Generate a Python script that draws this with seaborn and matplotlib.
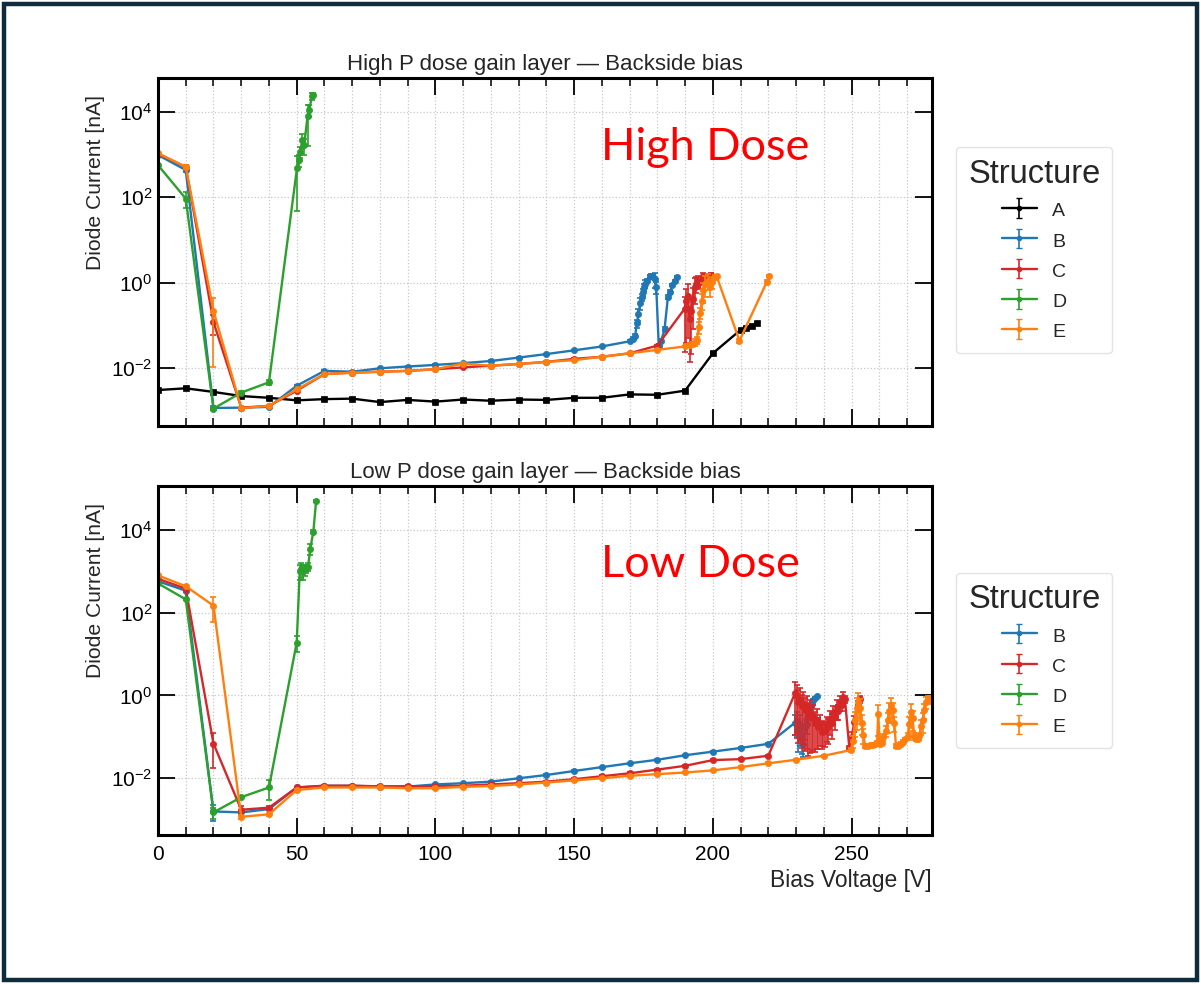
import numpy as np
import pandas as pd
import matplotlib
matplotlib.use("Agg")
import matplotlib.pyplot as plt
import matplotlib.ticker as mticker
from matplotlib.patches import Rectangle
import seaborn as sns

# ---------------- data (Bias Voltage [V], Diode Current [nA], relative error) ----------------
# High P dose
hA_V = [0, 10, 20, 30, 40, 50, 60, 70, 80, 90, 100, 110, 120, 130, 140, 150, 160, 170, 180, 190, 200, 210, 212, 214, 216]
hA_I = [3.1e-3, 3.4e-3, 2.8e-3, 2.24e-3, 2.04e-3, 1.78e-3, 1.9e-3, 1.95e-3, 1.62e-3, 1.82e-3, 1.66e-3, 1.86e-3, 1.74e-3,
        1.86e-3, 1.82e-3, 2.04e-3, 2.04e-3, 2.45e-3, 2.4e-3, 3.0e-3, 0.0224, 0.079, 0.089, 0.1, 0.112]
hA_E = [0.05] * 25

hB_V = [0, 10, 20, 30, 40, 50, 60, 70, 80, 90, 100, 110, 120, 130, 140, 150, 160, 170, 171.2, 172.0, 172.6, 173.2, 173.8,
        174.3, 174.8, 175.3, 175.7, 176.3, 177.2, 177.8, 178.4, 179.0, 179.6, 180.5, 181.4, 182.6, 183.8, 184.6, 185.3,
        186.2, 187.0]
hB_I = [975, 434, 1.18e-3, 1.2e-3, 1.25e-3, 3.9e-3, 8.7e-3, 8.3e-3, 0.01, 0.011, 0.012, 0.0132, 0.0148, 0.0178, 0.0215,
        0.0263, 0.0324, 0.0427, 0.049, 0.058, 0.112, 0.187, 0.33, 0.46, 0.60, 0.79, 0.95, 1.13, 1.41, 1.48, 1.35, 1.24,
        0.79, 0.034, 0.044, 0.083, 0.46, 0.60, 0.87, 1.13, 1.35]
hB_E = [0.05, 0.1, 0.1, 0.05, 0.05, 0.05, 0.03, 0.03, 0.03, 0.03, 0.03, 0.03, 0.03, 0.03, 0.03, 0.03, 0.03, 0.05, 0.1,
        0.1, 0.2, 0.3, 0.3, 0.2, 0.2, 0.2, 0.2, 0.1, 0.1, 0.1, 0.1, 0.4, 0.3, 0.1, 0.1, 0.1, 0.1, 0.1, 0.05, 0.05, 0.05]

hC_V = [0, 10, 20, 30, 40, 50, 60, 70, 80, 90, 100, 110, 120, 130, 140, 150, 160, 170, 180, 189.8, 190.4, 191.0, 191.6,
        192.2, 192.8, 193.4, 194.0, 194.6, 195.2, 196.4, 197.6, 199.4]
hC_I = [1050, 510, 0.12, 1.2e-3, 1.32e-3, 3.0e-3, 7.3e-3, 7.9e-3, 8.3e-3, 8.7e-3, 9.5e-3, 0.0105, 0.0115, 0.0126, 0.0141,
        0.0166, 0.0186, 0.0224, 0.034, 0.245, 0.38, 0.50, 0.14, 0.22, 0.42, 0.79, 0.95, 1.13, 1.03, 1.41, 1.48, 1.56]
hC_E = [0.05, 0.1, 0.5, 0.05, 0.05, 0.05, 0.03, 0.03, 0.03, 0.03, 0.03, 0.03, 0.03, 0.03, 0.03, 0.03, 0.03, 0.03, 0.05,
        0.9, 0.9, 0.9, 0.9, 0.9, 0.8, 0.6, 0.4, 0.3, 0.3, 0.2, 0.1, 0.1]

hD_V = [0, 10, 20, 30, 40, 50.1, 50.8, 51.3, 52.0, 52.7, 53.9, 54.5, 55.5, 56.0]
hD_I = [565, 93, 1.14e-3, 2.7e-3, 4.7e-3, 480, 740, 1170, 2190, 1660, 7800, 1.1e4, 2.3e4, 2.5e4]
hD_E = [0.05, 0.4, 0.05, 0.1, 0.15, 0.9, 0.3, 0.3, 0.4, 0.4, 0.8, 0.3, 0.2, 0.1]

hE_V = [0, 10, 20, 30, 40, 50, 60, 70, 80, 90, 100, 110, 120, 130, 140, 150, 160, 170, 180, 190, 191.6, 192.8, 193.7,
        194.2, 194.9, 195.4, 196.1, 196.6, 197.3, 198.2, 199.0, 199.7, 200.6, 201.4, 209.6, 219.4, 220.4]
hE_I = [1070, 515, 0.22, 1.17e-3, 1.32e-3, 3.2e-3, 7.3e-3, 7.9e-3, 8.3e-3, 8.7e-3, 9.5e-3, 0.0129, 0.0115, 0.0126, 0.0141,
        0.0155, 0.0186, 0.0224, 0.027, 0.0324, 0.035, 0.037, 0.041, 0.046, 0.091, 0.20, 0.38, 0.66, 0.95, 1.13, 0.79,
        1.03, 1.35, 1.41, 0.044, 1.03, 1.41]
hE_E = [0.05, 0.1, 0.95, 0.05, 0.05, 0.05, 0.03, 0.03, 0.03, 0.03, 0.03, 0.03, 0.03, 0.03, 0.03, 0.03, 0.03, 0.03, 0.03,
        0.05, 0.1, 0.1, 0.2, 0.2, 0.3, 0.3, 0.4, 0.5, 0.5, 0.4, 0.4, 0.3, 0.1, 0.1, 0.1, 0.1, 0.05]

# Low P dose
lB_V = [0, 10, 20, 30, 40, 50, 60, 70, 80, 90, 100, 110, 120, 130, 140, 150, 160, 170, 180, 190, 200, 210, 220, 229.6,
        230.2, 230.8, 231.4, 232.0, 232.6, 233.2, 233.8, 234.4, 235.0, 235.6, 236.2, 236.8, 237.4]
lB_I = [575, 340, 1.58e-3, 1.5e-3, 1.8e-3, 6.0e-3, 6.6e-3, 6.6e-3, 6.3e-3, 6.3e-3, 7.1e-3, 7.6e-3, 8.3e-3, 0.01, 0.012,
        0.015, 0.0186, 0.023, 0.028, 0.036, 0.044, 0.054, 0.068, 0.22, 0.245, 0.14, 0.2, 0.095, 0.066, 0.17, 0.2, 0.3,
        0.52, 0.63, 0.76, 0.87, 0.95]
lB_E = [0.05, 0.05, 0.4, 0.1, 0.05, 0.05, 0.03, 0.03, 0.03, 0.03, 0.03, 0.03, 0.03, 0.03, 0.03, 0.03, 0.03, 0.03, 0.03,
        0.03, 0.03, 0.03, 0.03, 0.5, 0.6, 0.7, 0.7, 0.6, 0.5, 0.5, 0.4, 0.3, 0.2, 0.1, 0.1, 0.05, 0.05]

lC_V = [0, 10, 20, 30, 40, 50, 60, 70, 80, 90, 100, 110, 120, 130, 140, 150, 160, 170, 180, 190, 200, 210, 220, 229.6,
        230.2, 230.8, 231.4, 232.0, 232.6, 233.2, 233.8, 234.4, 235.0, 235.6, 236.2, 236.8, 237.4, 238.0, 238.6, 239.2,
        239.8, 240.4, 241.0, 241.6, 242.2, 242.8, 243.4, 244.0, 244.6, 245.2, 245.8, 246.4, 247.0, 247.6, 249.2, 250.0,
        251.0, 252.2, 253.0]
lC_I = [660, 380, 0.069, 1.74e-3, 1.95e-3, 6.0e-3, 6.6e-3, 6.6e-3, 6.4e-3, 6.4e-3, 6.4e-3, 6.6e-3, 7.1e-3, 7.6e-3,
        8.3e-3, 9.5e-3, 0.0112, 0.0132, 0.0162, 0.02, 0.0275, 0.029, 0.035, 1.12, 0.95, 0.70, 0.79, 0.55, 0.63, 0.45,
        0.52, 0.34, 0.40, 0.28, 0.32, 0.22, 0.26, 0.17, 0.2, 0.13, 0.15, 0.14, 0.19, 0.17, 0.27, 0.22, 0.38, 0.30, 0.52,
        0.43, 0.69, 0.60, 0.91, 0.83, 0.055, 0.10, 0.224, 0.575, 0.83]
lC_E = [0.05, 0.05, 0.75, 0.2, 0.1, 0.05, 0.05, 0.05, 0.05, 0.05, 0.05, 0.05, 0.05, 0.05, 0.05, 0.05, 0.05, 0.05, 0.05,
        0.05, 0.05, 0.05, 0.05, 0.9, 0.9, 0.9, 0.9, 0.9, 0.9, 0.9, 0.9, 0.9, 0.9, 0.85, 0.85, 0.8, 0.8, 0.7, 0.7, 0.6,
        0.6, 0.6, 0.6, 0.6, 0.6, 0.6, 0.5, 0.5, 0.5, 0.4, 0.4, 0.3, 0.3, 0.2, 0.1, 0.3, 0.4, 0.3, 0.2]

lD_V = [0, 10, 20, 30, 40, 50, 51.1, 51.7, 52.3, 52.9, 53.5, 54.1, 54.9, 56.0, 57.0]
lD_I = [510, 210, 1.5e-3, 3.5e-3, 6.0e-3, 19, 1020, 1120, 1000, 1120, 1150, 1290, 3550, 9100, 5.0e4]
lD_E = [0.05, 0.05, 0.3, 0.05, 0.5, 0.4, 0.4, 0.4, 0.4, 0.3, 0.2, 0.2, 0.3, 0.1, 0.05]

lE_V = [0, 10, 20, 30, 40, 50, 60, 70, 80, 90, 100, 110, 120, 130, 140, 150, 160, 170, 180, 190, 200, 210, 220, 230,
        240, 249.7, 250.5, 251.3, 251.8, 252.5, 253.1, 253.7, 254.3, 254.9, 255.8, 256.6, 257.6, 258.4, 259.2, 259.6,
        260.2, 260.9, 261.5, 262.4, 263.0, 263.6, 264.2, 264.8, 265.4, 266.0, 266.6, 267.2, 267.8, 268.6, 269.4, 270.2,
        270.8, 271.4, 272.0, 272.6, 273.2, 273.8, 274.4, 275.0, 275.6, 276.2, 276.8, 277.4, 278.2]
lE_I = [795, 435, 148, 1.17e-3, 1.35e-3, 5.2e-3, 6.0e-3, 6.0e-3, 6.0e-3, 5.75e-3, 5.75e-3, 6.2e-3, 6.5e-3, 7.1e-3,
        7.9e-3, 8.9e-3, 0.01, 0.0115, 0.0126, 0.0138, 0.0155, 0.0186, 0.023, 0.028, 0.035, 0.048, 0.079, 0.25, 0.5,
        0.71, 0.5, 0.22, 0.11, 0.06, 0.06, 0.062, 0.063, 0.066, 0.072, 0.355, 0.066, 0.072, 0.1, 0.14, 0.25, 0.43, 0.575,
        0.45, 0.22, 0.06, 0.06, 0.063, 0.069, 0.076, 0.087, 0.105, 0.2, 0.4, 0.28, 0.105, 0.087, 0.091, 0.105, 0.18, 0.25,
        0.45, 0.69, 0.79, 0.89]
lE_E = [0.05, 0.05, 0.6, 0.1, 0.1, 0.05, 0.05, 0.05, 0.05, 0.05, 0.05, 0.05, 0.05, 0.05, 0.05, 0.05, 0.05, 0.05, 0.05,
        0.05, 0.05, 0.05, 0.05, 0.05, 0.05, 0.1, 0.3, 0.6, 0.7, 0.6, 0.6, 0.5, 0.4, 0.1, 0.1, 0.1, 0.1, 0.1, 0.1, 0.7,
        0.1, 0.1, 0.2, 0.3, 0.5, 0.5, 0.5, 0.5, 0.4, 0.1, 0.1, 0.1, 0.1, 0.1, 0.1, 0.2, 0.5, 0.6, 0.5, 0.2, 0.1, 0.1,
        0.2, 0.4, 0.5, 0.4, 0.3, 0.2, 0.1]

structures = ["A", "B", "C", "D", "E"]
colors = {"A": "#000000", "B": "#1f77b4", "C": "#d62728", "D": "#2ca02c", "E": "#ff7f0e"}
markers = {"A": "s", "B": "o", "C": "o", "D": "o", "E": "o"}

high = {"A": (hA_V, hA_I, hA_E), "B": (hB_V, hB_I, hB_E), "C": (hC_V, hC_I, hC_E),
        "D": (hD_V, hD_I, hD_E), "E": (hE_V, hE_I, hE_E)}
low = {"B": (lB_V, lB_I, lB_E), "C": (lC_V, lC_I, lC_E), "D": (lD_V, lD_I, lD_E), "E": (lE_V, lE_I, lE_E)}

titles = ["High P dose gain layer \u2014 Backside bias", "Low P dose gain layer \u2014 Backside bias"]
notes = ["High Dose", "Low Dose"]
xlabel = "Bias Voltage [V]"
ylabel = "Diode Current [nA]"
legend_title = "Structure"

# ---------------- style ----------------
sns.set_theme(style="ticks")
plt.rcParams["font.family"] = ["Liberation Sans", "DejaVu Sans"]
plt.rcParams["mathtext.fontset"] = "custom"
plt.rcParams["mathtext.rm"] = "Liberation Sans"
plt.rcParams["mathtext.it"] = "Liberation Sans:italic"
plt.rcParams["mathtext.bf"] = "Liberation Sans:bold"

fig = plt.figure(figsize=(12.01, 9.84), dpi=100)
fig.patch.set_facecolor("white")
ax1 = fig.add_axes([158 / 1201, 1 - 426 / 984, 774 / 1201, 348 / 984])
ax2 = fig.add_axes([158 / 1201, 1 - 835 / 984, 774 / 1201, 349 / 984])

ylims = [(10 ** -3.35, 10 ** 4.79), (10 ** -3.37, 10 ** 5.06)]


def draw_series(ax, key, V, I, E):
    c = colors[key]
    I = np.asarray(I, dtype=float)
    E = np.asarray(E, dtype=float)
    df = pd.DataFrame({"V": V, "I": I})
    sns.lineplot(data=df, x="V", y="I", ax=ax, color=c, marker=markers[key], markersize=4.5,
                 markeredgecolor=c, markeredgewidth=0.5, linewidth=1.7, sort=False, estimator=None,
                 legend=False)
    lo = I * np.minimum(E, 0.95)
    hi = I * E
    ax.errorbar(V, I, yerr=[lo, hi], fmt="none", ecolor=c, elinewidth=1.2, capsize=2.5, capthick=1.2)


for idx, (ax, data) in enumerate([(ax1, high), (ax2, low)]):
    ax.set_yscale("log")
    handles = []
    for key in structures:
        if key not in data:
            continue
        V, I, E = data[key]
        draw_series(ax, key, V, I, E)
        h = ax.errorbar([np.nan], [np.nan], yerr=[1.0], fmt=".-", color=colors[key], capsize=2.5,
                        elinewidth=1.2, linewidth=1.7, label=key)
        handles.append(h)
    ax.set_xlim(0, 279)
    ax.set_ylim(*ylims[idx])
    ax.yaxis.set_major_locator(mticker.FixedLocator([1e-2, 1e0, 1e2, 1e4]))
    ax.yaxis.set_major_formatter(mticker.LogFormatterMathtext())
    ax.yaxis.set_minor_locator(mticker.NullLocator())
    ax.xaxis.set_major_locator(mticker.MultipleLocator(50))
    ax.xaxis.set_minor_locator(mticker.MultipleLocator(10))
    ax.grid(True, which="both", axis="x", linestyle=":", color="#c8c8c8", linewidth=0.9)
    ax.grid(True, which="major", axis="y", linestyle=":", color="#c8c8c8", linewidth=0.9)
    ax.tick_params(which="both", direction="in", top=True, right=True, labelsize=15, colors="black")
    ax.tick_params(which="major", length=12, width=1.3)
    ax.tick_params(axis="x", which="major", pad=7)
    ax.tick_params(axis="y", which="major", pad=4)
    ax.tick_params(which="minor", length=6, width=1.1)
    for s in ax.spines.values():
        s.set_linewidth(2.2)
        s.set_color("black")
    ax.set_title(titles[idx], fontsize=16, pad=6)
    ax.set_ylabel(ylabel, fontsize=15.2)
    ax.yaxis.set_label_coords(-0.069, 0.95)
    ax.yaxis.label.set_horizontalalignment("right")
    ax.set_xlabel("")
    ax.text(0.572, 0.80 if idx == 0 else 0.775, notes[idx], transform=ax.transAxes, color="#ff0000",
            fontsize=32.5, family=["Lato", "DejaVu Sans"], ha="left", va="center")
    leg = ax.legend(handles=handles, labels=[h.get_label() for h in handles], title=legend_title,
                    loc="center left", bbox_to_anchor=(1.019, 0.505 if idx == 0 else 0.50),
                    frameon=True, fontsize=14, title_fontsize=23.5, handlelength=1.8, handleheight=1.2,
                    borderpad=0.6, labelspacing=0.5, handletextpad=0.8, fancybox=True)
    leg.get_frame().set_edgecolor("#dddddd")
    leg.get_frame().set_linewidth(1.0)

ax1.tick_params(labelbottom=False)
ax2.set_xlabel(xlabel, fontsize=16.5, loc="right", labelpad=4)

# outer frame
fig.patches.append(Rectangle((0.0035, 0.004), 0.993, 0.992, transform=fig.transFigure, fill=False,
                             edgecolor="#0f2c3d", linewidth=3.2, zorder=10))

fig.savefig("out.png", dpi=100, facecolor="white")
